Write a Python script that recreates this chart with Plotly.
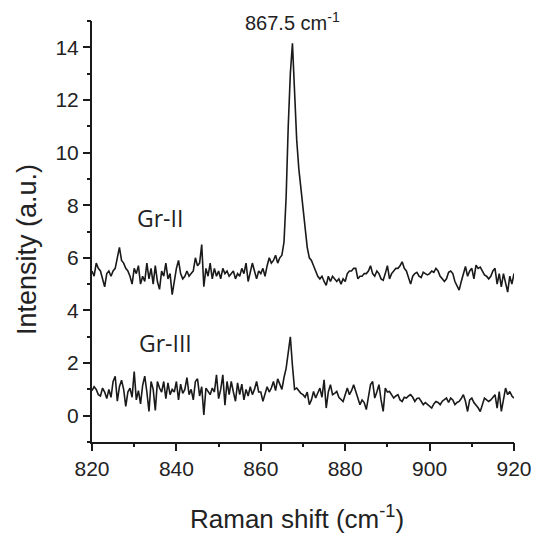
import plotly.graph_objects as go

# Raman shift axis (cm^-1), 0.5 cm^-1 step
raman_shift = [820 + 0.5 * i for i in range(201)]

gr_ii = [
    5.5, 5.3, 5.8, 5.6, 5.5, 5.2, 4.9, 5.4, 5.5, 5.3,
    5.5, 5.6, 6.0, 6.4, 5.9, 5.8, 5.6, 5.5, 5.3, 5.0,
    5.6, 5.4, 5.7, 5.0, 5.3, 5.1, 5.8, 5.2, 5.6, 5.0,
    5.7, 5.1, 4.8, 5.5, 5.3, 5.8, 5.2, 5.4, 4.6, 5.2,
    5.6, 5.9, 5.4, 5.2, 5.3, 5.5, 5.3, 5.4, 5.5, 6.0,
    5.7, 5.8, 6.5, 4.9, 5.6, 5.3, 5.8, 5.2, 5.6, 5.3,
    5.5, 5.2, 5.6, 5.4, 5.5, 5.3, 5.4, 5.5, 5.2, 5.4,
    5.3, 5.6, 5.4, 5.8, 5.1, 5.4, 5.8, 5.5, 5.2, 5.5,
    5.4, 5.6, 5.3, 5.7, 6.0, 5.8, 5.9, 6.1, 5.8, 6.0,
    6.1, 6.6, 8.3, 11.0, 13.0, 14.15, 12.0, 10.5, 9.4, 8.6,
    7.8, 7.0, 6.4, 6.0, 5.9, 5.7, 5.5, 5.3, 5.2, 5.3,
    5.1, 4.95, 5.3, 5.1, 5.3, 5.2, 5.1, 5.2, 5.0, 5.2,
    5.1, 5.4, 5.5, 5.5, 5.6, 5.6, 5.2, 5.3, 5.3, 5.4,
    5.4, 5.5, 5.7, 5.4, 5.3, 5.5, 5.4, 5.2, 5.15, 5.4,
    5.7, 5.2, 5.4, 5.5, 5.6, 5.6, 5.7, 5.85, 5.6, 5.5,
    5.2, 5.0, 5.3, 5.4, 5.45, 5.3, 5.25, 5.45, 5.4, 5.35,
    5.4, 5.5, 5.45, 5.6, 5.5, 5.3, 5.2, 5.1, 5.2, 5.45,
    5.5, 5.4, 5.1, 4.9, 4.77, 5.1, 5.4, 5.67, 5.3, 5.5,
    5.6, 5.2, 5.72, 5.6, 5.65, 5.5, 5.35, 5.3, 5.2, 5.3,
    5.5, 5.6, 5.0, 5.4, 4.9, 5.4, 5.1, 4.7, 5.3, 5.0,
    5.4,
]

gr_iii = [
    0.95, 1.1, 1.0, 0.8, 0.75, 1.05, 0.9, 0.65, 1.0, 0.7,
    1.3, 1.5, 0.55, 1.1, 1.35, 1.0, 0.35, 0.9, 1.05, 0.7,
    1.68, 0.6, 0.95, 0.45, 1.15, 1.5, 0.9, 0.16, 1.3, 1.0,
    0.2, 1.3, 1.05, 0.9, 1.3, 0.65, 1.25, 0.8, 1.0, 0.9,
    1.3, 0.6, 1.2, 0.85, 1.0, 1.45, 0.8, 1.0, 0.6, 1.3,
    1.4, 0.75, 1.1, 0.03, 1.05, 0.9, 0.8, 1.05, 0.9, 1.55,
    0.65, 1.0, 1.55, 0.4, 1.3, 0.8, 1.3, 0.9, 0.55, 1.25,
    0.8, 1.2, 0.6, 1.0, 0.75, 1.1, 0.8, 1.0, 1.3, 0.9,
    0.9, 0.55, 0.8, 1.1, 0.9, 1.05, 1.3, 0.95, 1.4, 1.2,
    1.0, 1.45, 1.8, 2.4, 3.0, 1.9, 1.0, 1.05, 0.95, 0.85,
    0.8, 0.7, 0.9, 0.42, 0.6, 0.92, 0.67, 0.85, 1.05, 0.7,
    1.36, 0.29, 0.9, 1.18, 0.8, 0.85, 0.92, 0.7, 0.6, 0.54,
    0.8, 1.05, 0.8, 0.95, 1.18, 0.92, 0.7, 0.42, 0.6, 0.5,
    0.23, 0.7, 1.18, 1.3, 0.67, 0.9, 1.18, 0.6, 0.16, 1.05,
    0.9, 0.92, 0.8, 0.67, 0.75, 0.8, 0.6, 0.54, 0.7, 0.67,
    0.75, 0.8, 0.7, 0.54, 0.65, 0.67, 0.55, 0.42, 0.5, 0.42,
    0.35, 0.29, 0.45, 0.54, 0.5, 0.42, 0.55, 0.6, 0.67, 0.5,
    0.67, 0.6, 0.42, 0.5, 0.54, 0.65, 0.8, 0.55, 0.16, 0.6,
    0.67, 0.5, 0.42, 0.3, 0.16, 0.45, 0.67, 0.6, 0.54, 0.6,
    0.7, 0.8, 0.29, 0.92, 0.16, 0.6, 1.05, 0.8, 0.92, 0.75,
    0.67,
]

x_range = [820, 920]
y_range = [-1, 15]

AX_FONT = "Liberation Sans, Arial, sans-serif"
LBL_FONT = "Open Sans, Noto Sans, sans-serif"
INK = "#1a1a1a"

fig = go.Figure()
for ys in (gr_ii, gr_iii):
    fig.add_trace(go.Scatter(x=raman_shift, y=ys, mode="lines",
                             line=dict(color=INK, width=1.6),
                             showlegend=False, hoverinfo="skip"))

# invisible helper trace carrying the minor-tick axes
fig.add_trace(go.Scatter(x=x_range, y=y_range, xaxis="x2", yaxis="y2",
                         mode="markers", marker=dict(opacity=0),
                         showlegend=False, hoverinfo="skip"))

axis_common = dict(showgrid=False, zeroline=False, showline=True,
                   linecolor=INK, linewidth=2, ticks="outside",
                   tickcolor=INK, tickwidth=2, ticklen=7, automargin=False,
                   tickfont=dict(family=AX_FONT, size=21, color="#222"))

minor_common = dict(showgrid=False, zeroline=False, showline=False,
                    ticks="outside", tickcolor=INK, tickwidth=2, ticklen=4,
                    showticklabels=False, automargin=False)

fig.update_layout(
    xaxis=dict(range=x_range, tickmode="linear", tick0=820, dtick=20,
               **axis_common),
    yaxis=dict(range=y_range, tickmode="linear", tick0=0, dtick=2,
               **axis_common),
    xaxis2=dict(range=x_range, overlaying="x", side="bottom",
                tickmode="linear", tick0=820, dtick=10, anchor="y2",
                **minor_common),
    yaxis2=dict(range=y_range, overlaying="y", side="left",
                tickmode="linear", tick0=-1, dtick=1, anchor="x2",
                **minor_common),
)

L, R, T, B = 92, 23, 21, 97
W, H = 537, 539
pw, ph = W - L - R, H - T - B


def px2paper(px, py):
    return (px - L) / pw, 1 - (py - T) / ph


ytx, yty = px2paper(27, 250)
xtx, xty = px2paper(297, 517)

annotations = [
    dict(x=867.5, y=15.0, xref="x", yref="y", text="867.5 cm<sup>-1</sup>",
         showarrow=False, font=dict(family=AX_FONT, size=20, color="#222")),
    dict(x=836.1, y=7.5, xref="x", yref="y", text="Gr-II",
         showarrow=False, font=dict(family=LBL_FONT, size=23, color="#222")),
    dict(x=837.5, y=2.75, xref="x", yref="y", text="Gr-III",
         showarrow=False, font=dict(family=LBL_FONT, size=23, color="#222")),
    dict(x=ytx, y=yty, xref="paper", yref="paper", text="Intensity (a.u.)",
         showarrow=False, textangle=-90, xanchor="center", yanchor="middle",
         font=dict(family=AX_FONT, size=27, color="#222")),
    dict(x=xtx, y=xty, xref="paper", yref="paper",
         text="Raman shift (cm<sup>-1</sup>)", xanchor="center",
         yanchor="middle",
         showarrow=False, font=dict(family=AX_FONT, size=26, color="#222")),
]

fig.update_layout(template="none", width=W, height=H,
                  margin=dict(l=L, r=R, t=T, b=B, autoexpand=False),
                  paper_bgcolor="white", plot_bgcolor="white",
                  annotations=annotations)

fig.write_html("out.html", config={"displayModeBar": False},
               post_script="document.body.style.margin='0';"
                           "document.body.style.padding='0';")
